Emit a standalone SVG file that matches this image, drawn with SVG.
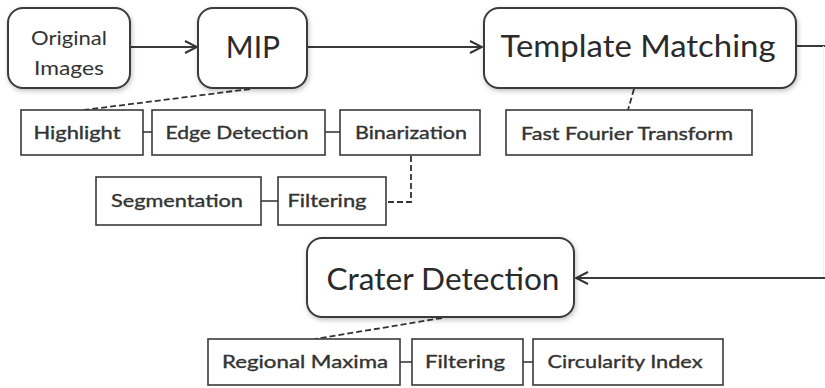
<svg xmlns="http://www.w3.org/2000/svg" width="825" height="388" viewBox="0 0 825 388">
  <defs>
    <filter id="shadow" x="-10%" y="-10%" width="125%" height="130%">
      <feGaussianBlur in="SourceAlpha" stdDeviation="2.5"/>
      <feOffset dx="1" dy="2" result="b"/>
      <feComponentTransfer><feFuncA type="linear" slope="0.25"/></feComponentTransfer>
      <feMerge><feMergeNode/><feMergeNode in="SourceGraphic"/></feMerge>
    </filter>
    <marker id="chev" viewBox="0 0 14 14" refX="13" refY="7" markerWidth="14" markerHeight="14" markerUnits="userSpaceOnUse" orient="auto">
      <polyline points="1,1 13,7 1,13" fill="none" stroke="#333" stroke-width="2"/>
    </marker>
  </defs>
  <style>
    .stage { fill: #fff; stroke: #3a3a3a; stroke-width: 2; filter: url(#shadow); }
    .step { fill: #fff; stroke: #3a3a3a; stroke-width: 1.6; }
    .big { font-family: Lato, "Open Sans", "Liberation Sans", sans-serif; font-size: 30px; fill: #2a2a2a; text-anchor: middle; }
    .mid { font-family: Lato, "Open Sans", "Liberation Sans", sans-serif; font-size: 20px; fill: #333; text-anchor: middle; }
    .small { font-family: Lato, "Open Sans", "Liberation Sans", sans-serif; font-size: 17px; fill: #333; stroke: #333; stroke-width: 0.35; text-anchor: middle; }
    .flow { fill: none; stroke: #3a3a3a; stroke-width: 2; }
    .link { fill: none; stroke: #3a3a3a; stroke-width: 1.6; }
    .dash { fill: none; stroke: #333; stroke-width: 1.8; stroke-dasharray: 6 3; }
  </style>

  <g id="connectors">
    <line class="flow" x1="130" y1="47" x2="197" y2="47" marker-end="url(#chev)"/>
    <line class="flow" x1="307" y1="47" x2="482" y2="47" marker-end="url(#chev)"/>
    <line class="flow" x1="796" y1="46" x2="825" y2="46"/>
    <line x1="823.5" y1="46" x2="823.5" y2="278" stroke="#eee" stroke-width="1"/>
    <line class="flow" x1="825" y1="278" x2="576" y2="278" marker-end="url(#chev)"/>
    <line class="link" x1="143" y1="132" x2="152" y2="132"/>
    <line class="link" x1="325" y1="132" x2="340" y2="132"/>
    <line class="link" x1="261" y1="201" x2="278" y2="201"/>
    <line class="link" x1="400" y1="362" x2="412" y2="362"/>
    <line class="link" x1="523" y1="362" x2="533" y2="362"/>
    <line class="dash" x1="250" y1="89" x2="84" y2="110"/>
    <line class="dash" x1="634" y1="89" x2="628" y2="110"/>
    <polyline class="dash" points="411,156 411,202 386,202"/>
    <line class="dash" x1="442" y1="318" x2="315" y2="339"/>
  </g>

  <g id="original-images">
    <rect class="stage" x="8" y="8" width="122" height="80" rx="15"/>
    <text class="mid" x="69" y="45" textLength="76" lengthAdjust="spacingAndGlyphs">Original</text>
    <text class="mid" x="69" y="75" textLength="70" lengthAdjust="spacingAndGlyphs">Images</text>
  </g>
  <g id="mip">
    <rect class="stage" x="198" y="8" width="109" height="80" rx="15"/>
    <text class="big" x="253" y="58">MIP</text>
  </g>
  <g id="template-matching">
    <rect class="stage" x="484" y="8" width="312" height="80" rx="15"/>
    <text class="big" x="638" y="57" textLength="275" lengthAdjust="spacingAndGlyphs">Template Matching</text>
  </g>
  <g id="crater-detection">
    <rect class="stage" x="307" y="238" width="267" height="79" rx="15"/>
    <text class="big" x="443" y="290" textLength="233" lengthAdjust="spacingAndGlyphs">Crater Detection</text>
  </g>

  <g id="highlight">
    <rect class="step" x="21" y="110" width="122" height="45"/>
    <text class="small" x="77" y="139" textLength="87" lengthAdjust="spacingAndGlyphs">Highlight</text>
  </g>
  <g id="edge-detection">
    <rect class="step" x="152" y="110" width="173" height="45"/>
    <text class="small" x="237" y="139" textLength="143" lengthAdjust="spacingAndGlyphs">Edge Detection</text>
  </g>
  <g id="binarization">
    <rect class="step" x="340" y="110" width="140" height="45"/>
    <text class="small" x="411" y="139" textLength="112" lengthAdjust="spacingAndGlyphs">Binarization</text>
  </g>
  <g id="fft">
    <rect class="step" x="506" y="110" width="246" height="45"/>
    <text class="small" x="627" y="140" textLength="212" lengthAdjust="spacingAndGlyphs">Fast Fourier Transform</text>
  </g>
  <g id="segmentation">
    <rect class="step" x="96" y="177" width="165" height="48"/>
    <text class="small" x="177" y="207" textLength="132" lengthAdjust="spacingAndGlyphs">Segmentation</text>
  </g>
  <g id="filtering-1">
    <rect class="step" x="278" y="177" width="108" height="48"/>
    <text class="small" x="327" y="207" textLength="79" lengthAdjust="spacingAndGlyphs">Filtering</text>
  </g>
  <g id="regional-maxima">
    <rect class="step" x="208" y="339" width="192" height="46"/>
    <text class="small" x="305" y="368" textLength="166" lengthAdjust="spacingAndGlyphs">Regional Maxima</text>
  </g>
  <g id="filtering-2">
    <rect class="step" x="412" y="339" width="111" height="46"/>
    <text class="small" x="465" y="368" textLength="80" lengthAdjust="spacingAndGlyphs">Filtering</text>
  </g>
  <g id="circularity-index">
    <rect class="step" x="533" y="339" width="190" height="46"/>
    <text class="small" x="625" y="368" textLength="155" lengthAdjust="spacingAndGlyphs">Circularity Index</text>
  </g>
</svg>
